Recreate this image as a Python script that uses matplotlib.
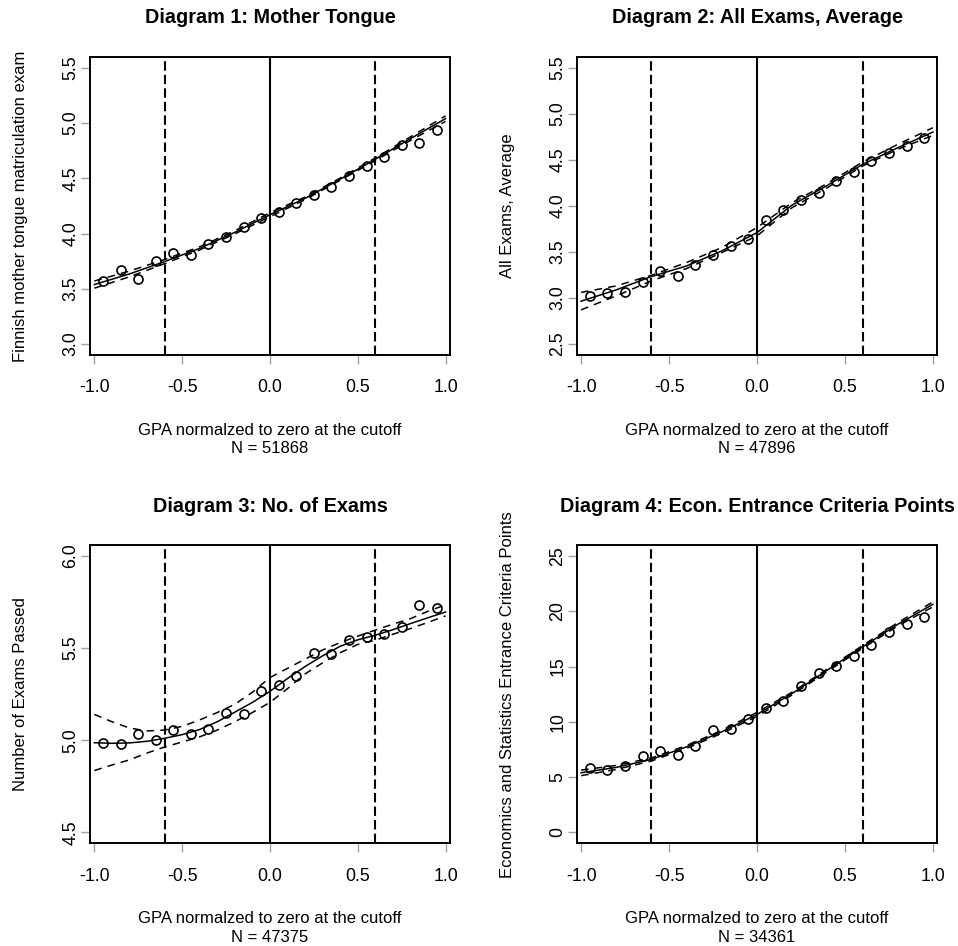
import numpy as np
import matplotlib
matplotlib.use("Agg")
import matplotlib.pyplot as plt

plt.rcParams['font.family'] = ['Liberation Sans', 'DejaVu Sans']

# ---------------------------------------------------------
# Data
# ---------------------------------------------------------

# bin centres of the scatter points
bin_x = [-0.95, -0.85, -0.75, -0.65, -0.55, -0.45, -0.35, -0.25, -0.15, -0.05,
         0.05, 0.15, 0.25, 0.35, 0.45, 0.55, 0.65, 0.75, 0.85, 0.95]

# knots of the fitted curves
fit_x = [-1.0, -0.8, -0.6, -0.4, -0.2, 0.0, 0.2, 0.4, 0.6, 0.8, 1.0]
fit_x_fine = [-1.0, -0.9, -0.8, -0.7, -0.6, -0.5, -0.4, -0.3, -0.2, -0.1, 0.0,
              0.1, 0.2, 0.3, 0.4, 0.5, 0.6, 0.7, 0.8, 0.9, 1.0]

# Diagram 1: Mother Tongue
mt_points = [3.574, 3.673, 3.589, 3.749, 3.827, 3.806, 3.905, 3.968, 4.061, 4.140,
             4.197, 4.272, 4.350, 4.417, 4.522, 4.609, 4.697, 4.799, 4.823, 4.934]
mt_fit = [3.538, 3.634, 3.746, 3.866, 4.011, 4.170, 4.318, 4.492, 4.672, 4.859, 5.040]
mt_upper = [3.570, 3.660, 3.765, 3.880, 4.025, 4.188, 4.330, 4.502, 4.684, 4.875, 5.065]
mt_lower = [3.505, 3.608, 3.727, 3.852, 3.997, 4.152, 4.306, 4.482, 4.660, 4.843, 5.015]

# Diagram 2: All Exams, Average
ae_points = [3.016, 3.049, 3.070, 3.175, 3.294, 3.240, 3.356, 3.467, 3.565, 3.645,
             3.847, 3.956, 4.061, 4.144, 4.270, 4.368, 4.487, 4.570, 4.650, 4.733]
ae_fit = [2.965, 3.088, 3.233, 3.348, 3.511, 3.710, 4.010, 4.223, 4.451, 4.632, 4.802]
ae_upper = [3.060, 3.131, 3.247, 3.385, 3.548, 3.765, 4.036, 4.245, 4.476, 4.668, 4.849]
ae_lower = [2.871, 3.023, 3.186, 3.320, 3.493, 3.674, 3.982, 4.198, 4.433, 4.614, 4.766]

# Diagram 3: No. of Exams
ne_points = [4.983, 4.981, 5.033, 5.002, 5.055, 5.033, 5.058, 5.145, 5.140, 5.268,
             5.299, 5.346, 5.472, 5.470, 5.543, 5.561, 5.579, 5.617, 5.733, 5.720]
ne_fit = [4.986, 4.983, 4.985, 4.994, 5.010, 5.030, 5.058, 5.100, 5.152, 5.205, 5.265,
          5.335, 5.400, 5.458, 5.510, 5.545, 5.570, 5.600, 5.633, 5.665, 5.696]
ne_upper = [5.140, 5.100, 5.066, 5.050, 5.055, 5.075, 5.110, 5.150, 5.195, 5.260, 5.340,
            5.390, 5.440, 5.490, 5.530, 5.565, 5.598, 5.630, 5.660, 5.700, 5.735]
ne_lower = [4.835, 4.865, 4.893, 4.930, 4.963, 4.990, 5.018, 5.055, 5.100, 5.150, 5.205,
            5.280, 5.360, 5.420, 5.475, 5.520, 5.543, 5.575, 5.606, 5.640, 5.675]

# Diagram 4: Econ. Entrance Criteria Points
ec_points = [5.78, 5.62, 6.01, 6.92, 7.34, 6.98, 7.79, 9.24, 9.30, 10.21,
             11.26, 11.89, 13.22, 14.37, 15.03, 15.93, 16.99, 18.10, 18.89, 19.48]
ec_fit = [5.38, 5.87, 6.59, 7.73, 9.09, 10.66, 12.56, 14.67, 16.77, 18.82, 20.63]
ec_upper = [5.62, 6.05, 6.72, 7.85, 9.22, 10.85, 12.68, 14.78, 16.90, 18.97, 20.85]
ec_lower = [5.12, 5.68, 6.45, 7.60, 8.95, 10.48, 12.43, 14.55, 16.64, 18.67, 20.40]

titles = ["Diagram 1: Mother Tongue", "Diagram 2: All Exams, Average",
          "Diagram 3: No. of Exams", "Diagram 4: Econ. Entrance Criteria Points"]
ylabels = ["Finnish mother tongue matriculation exam", "All Exams, Average",
           "Number of Exams Passed", "Economics and Statistics Entrance Criteria Points"]
sample_sizes = [51868, 47896, 47375, 34361]
yticks = [[3.0, 3.5, 4.0, 4.5, 5.0, 5.5],
          [2.5, 3.0, 3.5, 4.0, 4.5, 5.0, 5.5],
          [4.5, 5.0, 5.5, 6.0],
          [0, 5, 10, 15, 20, 25]]
ylims = [(2.9, 5.6), (2.38, 5.62), (4.44, 6.06), (-1.0, 26.0)]
xticks = [-1.0, -0.5, 0.0, 0.5, 1.0]
bandwidth = 0.6

# ---------------------------------------------------------
# Plotting
# ---------------------------------------------------------

fig = plt.figure(figsize=(9.58, 9.46), dpi=100)

rects = [[0.0939, 0.6247, 0.3758, 0.3153],
         [0.6020, 0.6247, 0.3764, 0.3153],
         [0.0939, 0.1086, 0.3758, 0.3153],
         [0.6020, 0.1086, 0.3764, 0.3153]]

panels = [(fit_x, mt_points, mt_fit, mt_upper, mt_lower),
          (fit_x, ae_points, ae_fit, ae_upper, ae_lower),
          (fit_x_fine, ne_points, ne_fit, ne_upper, ne_lower),
          (fit_x, ec_points, ec_fit, ec_upper, ec_lower)]

for i, (fx, pts, fit, up, lo) in enumerate(panels):
    ax = fig.add_axes(rects[i])

    ax.axvline(0, color="black", lw=1.5)
    ax.axvline(-bandwidth, color="black", lw=1.5, dashes=(4.5, 2))
    ax.axvline(bandwidth, color="black", lw=1.5, dashes=(4.5, 2))

    ax.plot(fx, fit, color="black", lw=1.1)
    ax.plot(fx, up, color="black", lw=1.1, dashes=(5, 4))
    ax.plot(fx, lo, color="black", lw=1.1, dashes=(5, 4))
    ax.plot(bin_x, pts, "o", mfc="none", mec="black", ms=6.5, mew=1.2)

    ax.set_xlim(-1.025, 1.025)
    ax.set_ylim(*ylims[i])
    ax.set_xticks(xticks)
    ax.set_xticklabels([f"{t:.1f}" for t in xticks])
    ax.set_yticks(yticks[i])
    if i == 3:
        ax.set_yticklabels([f"{t:d}" for t in yticks[i]])
    else:
        ax.set_yticklabels([f"{t:.1f}" for t in yticks[i]])

    for s in ax.spines.values():
        s.set_linewidth(1.4)
    ax.tick_params(axis="both", color="#a0a0a0", length=6.5, width=1,
                   labelsize=12.8)
    ax.tick_params(axis="x", pad=11)
    ax.tick_params(axis="y", pad=1)
    plt.setp(ax.get_yticklabels(), rotation=90, va="center")

    ax.set_title(titles[i], fontsize=14.3, fontweight="bold", pad=24)
    ax.set_xlabel(f"GPA normalzed to zero at the cutoff\nN = {sample_sizes[i]}",
                  fontsize=12, va="top", linespacing=1.3)
    ax.xaxis.set_label_coords(0.5, -0.227)
    ax.set_ylabel(ylabels[i], fontsize=12)
    ax.yaxis.set_label_coords(-0.172, 0.5)

fig.savefig("out.png", dpi=100)
